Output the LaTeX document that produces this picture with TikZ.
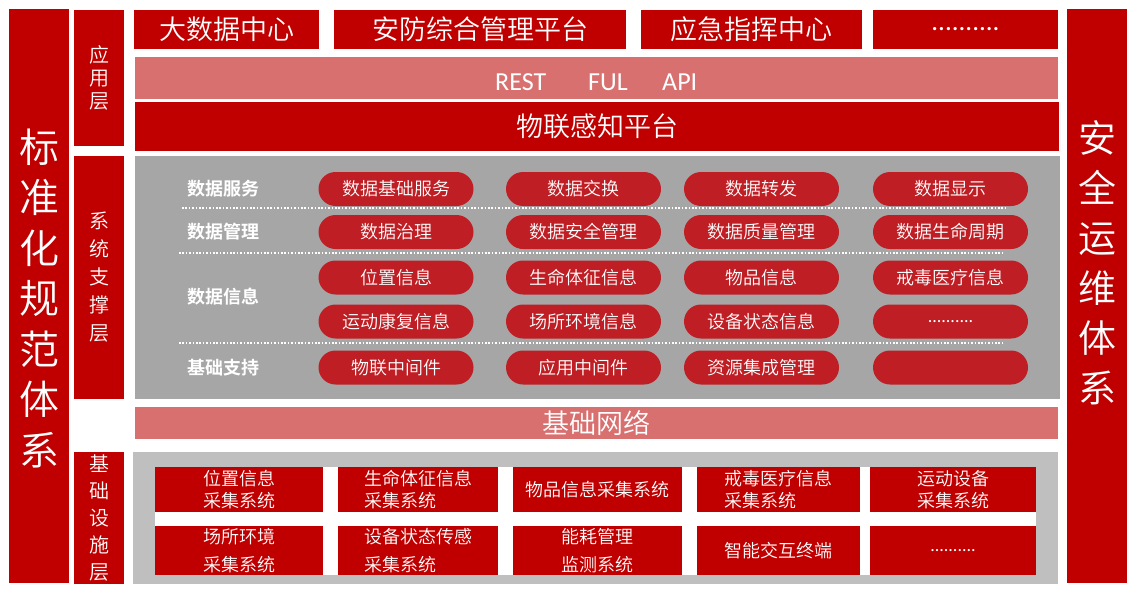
\documentclass[tikz,border=0pt]{standalone}
\usepackage{fontspec}
\setmainfont{Noto Sans CJK SC}[UprightFont=* DemiLight, BoldFont=* Bold]
\newfontfamily\latinfont{Carlito}
\definecolor{mainred}{RGB}{192,0,0}
\definecolor{pinkbar}{RGB}{217,112,112}
\definecolor{panelgray}{RGB}{166,166,166}
\definecolor{basegray}{RGB}{191,191,191}
\definecolor{pillred}{RGB}{190,30,36}
\begin{document}
\begin{tikzpicture}[x=1pt,y=-1pt,
  box/.style={rectangle, fill=mainred, text=white, inner sep=0pt, outer sep=0pt},
  pinkbox/.style={rectangle, fill=pinkbar, text=white, inner sep=0pt, outer sep=0pt},
  topbox/.style={box, minimum height=39pt, font=\fontsize{27}{30}\selectfont},
  sidebar/.style={box, minimum width=60pt, minimum height=574pt, align=center},
  layerbox/.style={box, minimum width=50pt, align=center},
  pill/.style={rectangle, rounded corners=17pt, fill=pillred, text=white, minimum width=155pt, minimum height=34pt, inner sep=0pt, font=\fontsize{18}{22}\selectfont},
  rowlabel/.style={anchor=west, text=white, inner sep=0pt, font=\fontsize{18}{22}\selectfont\bfseries},
  basebox/.style={box, align=left},
  rowa/.style={basebox, minimum height=45pt, font=\fontsize{18}{22}\selectfont},
  rowb/.style={basebox, minimum height=49pt, font=\fontsize{18}{28}\selectfont},
  apitext/.style={anchor=base west, inner sep=0pt, text=white, font=\latinfont\fontsize{26}{30}\selectfont},
  sep/.style={white, line width=1.6pt, dash pattern=on 1.6pt off 1.8pt}
]
\useasboundingbox (0,0) rectangle (1134,594);
\fill[white] (0,0) rectangle (1134,594);

% side bars
\node[sidebar] (left) at (39,296) {};
\node[text=white, align=center, inner sep=0pt, font=\fontsize{40}{50.5}\selectfont] (lefttext) at (39,298.5) {标\\准\\化\\规\\范\\体\\系};
\node[sidebar] (right) at (1097,296) {};
\node[text=white, align=center, inner sep=0pt, font=\fontsize{38}{50}\selectfont] (righttext) at (1097,262.5) {安\\全\\运\\维\\体\\系};

% layer labels
\node[layerbox, minimum height=136pt, font=\fontsize{20}{23}\selectfont] (l1) at (99,78) {应\\用\\层};
\node[layerbox, minimum height=243pt, font=\fontsize{20}{28}\selectfont] (l2) at (99,277.5) {系\\统\\支\\撑\\层};
\node[layerbox, minimum height=132pt, font=\fontsize{20}{27}\selectfont] (l3) at (99,518) {基\\础\\设\\施\\层};

% top application boxes
\node[topbox, minimum width=185pt] (a1) at (226.5,29.5) {大数据中心};
\node[topbox, minimum width=292pt] (a2) at (480,29.5) {安防综合管理平台};
\node[topbox, minimum width=221pt] (a3) at (751.5,29.5) {应急指挥中心};
\node[topbox, minimum width=185pt, font=\latinfont\fontsize{27}{30}\selectfont] (a4) at (965.5,29.5) {..........};

% REST FUL API
\node[pinkbox, minimum width=923pt, minimum height=42pt] (api) at (596.5,78) {};
\node[apitext] (rest) at (495,90) {REST};
\node[apitext] (ful) at (588,90) {FUL};
\node[apitext] (apiw) at (662,90) {API};

% platform
\node[box, minimum width=924pt, minimum height=49pt, font=\fontsize{27}{30}\selectfont] (plat) at (597,126.5) {物联感知平台};

% system support panel
\node[rectangle, fill=panelgray, inner sep=0pt, minimum width=925pt, minimum height=243pt] (panel) at (597.5,277.5) {};

\node[rowlabel] (r1) at (187,189) {数据服务};
\node[rowlabel] (r2) at (187,232) {数据管理};
\node[rowlabel] (r3) at (187,297) {数据信息};
\node[rowlabel] (r4) at (187,368) {基础支持};

\draw[sep] (182,208) -- (1007,208);
\draw[sep] (179,253) -- (1005,253);
\draw[sep] (179,343) -- (1005,343);

\node[pill] (p11) at (396,189) {数据基础服务};
\node[pill] (p12) at (583.5,189) {数据交换};
\node[pill] (p13) at (761.5,189) {数据转发};
\node[pill] (p14) at (950.5,189) {数据显示};

\node[pill] (p21) at (396,232) {数据治理};
\node[pill] (p22) at (583.5,232) {数据安全管理};
\node[pill] (p23) at (761.5,232) {数据质量管理};
\node[pill] (p24) at (950.5,232) {数据生命周期};

\node[pill] (p31) at (396,277.5) {位置信息};
\node[pill] (p32) at (583.5,277.5) {生命体征信息};
\node[pill] (p33) at (761.5,277.5) {物品信息};
\node[pill] (p34) at (950.5,277.5) {戒毒医疗信息};

\node[pill] (p41) at (396,321.5) {运动康复信息};
\node[pill] (p42) at (583.5,321.5) {场所环境信息};
\node[pill] (p43) at (761.5,321.5) {设备状态信息};
\node[pill, font=\latinfont\fontsize{18}{22}\selectfont] (p44) at (950.5,321.5) {..........};

\node[pill] (p51) at (396,367.5) {物联中间件};
\node[pill] (p52) at (583.5,367.5) {应用中间件};
\node[pill] (p53) at (761.5,367.5) {资源集成管理};
\node[pill] (p54) at (950.5,367.5) {};

% network
\node[pinkbox, minimum width=923pt, minimum height=32pt, font=\fontsize{27}{30}\selectfont] (net) at (596.5,423) {基础网络};

% infrastructure
\node[rectangle, fill=basegray, inner sep=0pt, minimum width=925pt, minimum height=132pt] (infra) at (595.5,518) {};
\node[rectangle, fill=white, inner sep=0pt, minimum width=881pt, minimum height=108pt] (inner) at (595.5,521) {};

\node[rowa, minimum width=168pt] (c11) at (239,489.5) {位置信息\\采集系统};
\node[rowa, minimum width=160pt] (c12) at (418,489.5) {生命体征信息\\采集系统};
\node[rowa, minimum width=169pt] (c13) at (597.5,489.5) {物品信息采集系统};
\node[rowa, minimum width=163pt] (c14) at (778.5,489.5) {戒毒医疗信息\\采集系统};
\node[rowa, minimum width=166pt] (c15) at (953,489.5) {运动设备\\采集系统};

\node[rowb, minimum width=168pt] (c21) at (239,550.5) {场所环境\\采集系统};
\node[rowb, minimum width=160pt] (c22) at (418,550.5) {设备状态传感\\采集系统};
\node[rowb, minimum width=169pt] (c23) at (597.5,550.5) {能耗管理\\监测系统};
\node[rowb, minimum width=163pt] (c24) at (778.5,550.5) {智能交互终端};
\node[rowb, minimum width=166pt, font=\latinfont\fontsize{18}{22}\selectfont] (c25) at (953,550.5) {..........};
\end{tikzpicture}
\end{document}
